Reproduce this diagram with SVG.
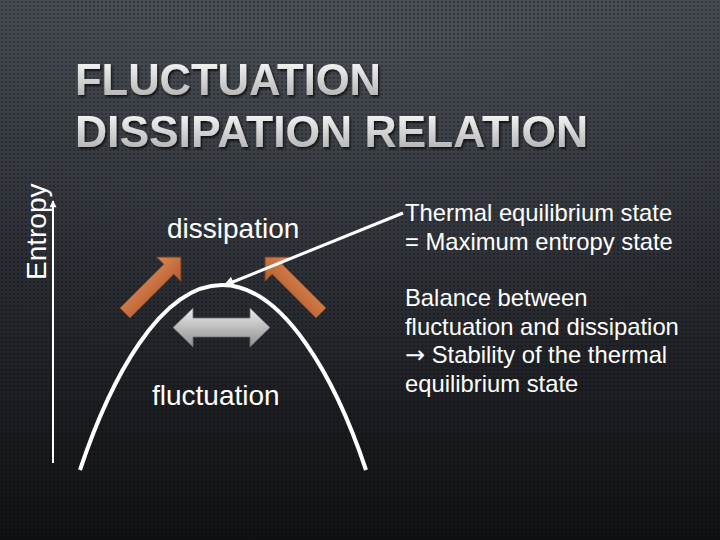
<svg xmlns="http://www.w3.org/2000/svg" width="720" height="540" viewBox="0 0 720 540">
  <defs>
    <linearGradient id="bg" x1="0" y1="0" x2="0" y2="1">
      <stop offset="0" stop-color="#43484f"/>
      <stop offset="0.45" stop-color="#2a2d33"/>
      <stop offset="1" stop-color="#101114"/>
    </linearGradient>
    <radialGradient id="glow" cx="0.5" cy="0" r="0.75">
      <stop offset="0" stop-color="#5a6068" stop-opacity="0.35"/>
      <stop offset="1" stop-color="#5a6068" stop-opacity="0"/>
    </radialGradient>
    <pattern id="dots" width="4" height="4" patternUnits="userSpaceOnUse">
      <circle cx="2" cy="2" r="1.1" fill="#000" fill-opacity="0.35"/>
    </pattern>
    <linearGradient id="titleFill" x1="0" y1="0" x2="0" y2="1">
      <stop offset="0" stop-color="#ffffff"/>
      <stop offset="1" stop-color="#a8a8a8"/>
    </linearGradient>
    <linearGradient id="orange" x1="0" y1="0" x2="0" y2="1">
      <stop offset="0" stop-color="#dc8655"/>
      <stop offset="1" stop-color="#b45c2c"/>
    </linearGradient>
    <linearGradient id="gray" x1="0" y1="0" x2="0" y2="1">
      <stop offset="0" stop-color="#ececec"/>
      <stop offset="1" stop-color="#8e8e8e"/>
    </linearGradient>
    <filter id="shadow" x="-5%" y="-20%" width="110%" height="150%">
      <feDropShadow dx="1.5" dy="2" stdDeviation="1.2" flood-color="#000" flood-opacity="0.7"/>
    </filter>
    <marker id="head" viewBox="0 0 10 10" refX="9" refY="5" markerWidth="4" markerHeight="3.6" orient="auto" markerUnits="strokeWidth">
      <path d="M0,0 L10,5 L0,10 Z" fill="#ffffff"/>
    </marker>
    <marker id="axisHead" viewBox="0 0 10 10" refX="9" refY="5" markerWidth="4" markerHeight="3.5" orient="auto" markerUnits="strokeWidth">
      <path d="M0,0 L10,5 L0,10 Z" fill="#ffffff"/>
    </marker>
  </defs>
  <style>
    .title { font-family: "Liberation Sans", Arial, sans-serif; font-weight: bold; font-size: 43.5px; fill: url(#titleFill); }
    .lbl { font-family: "Liberation Sans", Arial, sans-serif; font-size: 28px; fill: #ffffff; }
    .body { font-family: "Liberation Sans", Arial, sans-serif; font-size: 23.8px; fill: #ffffff; }
    .sym { font-family: "DejaVu Sans", sans-serif; font-size: 24px; }
    .orangeArrow { fill: url(#orange); stroke: #8c4a24; stroke-width: 0.8; }
    .grayArrow { fill: url(#gray); stroke: #6f6f6f; stroke-width: 0.8; }
  </style>

  <rect width="720" height="540" fill="url(#bg)"/>
  <rect width="720" height="540" fill="url(#glow)"/>
  <rect width="720" height="540" fill="url(#dots)"/>

  <g id="title" filter="url(#shadow)">
    <text class="title" x="75" y="95" textLength="306" lengthAdjust="spacingAndGlyphs">FLUCTUATION</text>
    <text class="title" x="75" y="147" textLength="513" lengthAdjust="spacingAndGlyphs">DISSIPATION RELATION</text>
  </g>

  <g id="axis">
    <line x1="53" y1="463" x2="53" y2="201" stroke="#ffffff" stroke-width="2" marker-end="url(#axisHead)"/>
    <text class="lbl" transform="translate(46,280) rotate(-90)">Entropy</text>
  </g>

  <g id="curve">
    <path d="M80,470 C110,380 160,285 222,285 C284,285 336,380 366,470" fill="none" stroke="#ffffff" stroke-width="4"/>
  </g>

  <g id="dissipation-left">
    <path class="orangeArrow" transform="translate(125,313) rotate(-45)" d="M0,-7 L62,-7 L62,-17 L79,0 L62,17 L62,7 L0,7 Z"/>
  </g>
  <g id="dissipation-right">
    <path class="orangeArrow" transform="translate(321,313) rotate(-135) scale(1,-1)" d="M0,-7 L62,-7 L62,-17 L79,0 L62,17 L62,7 L0,7 Z"/>
  </g>
  <g id="dissipation-label">
    <text class="lbl" x="167" y="238">dissipation</text>
  </g>

  <g id="fluctuation">
    <path class="grayArrow" d="M173,327.5 L193,308 L193,318 L250,318 L250,308 L270,327.5 L250,347 L250,337 L193,337 L193,347 Z"/>
    <text class="lbl" x="152" y="405">fluctuation</text>
  </g>

  <g id="connectors">
    <line x1="403" y1="213" x2="224" y2="285.5" stroke="#ffffff" stroke-width="3" marker-end="url(#head)"/>
  </g>

  <g id="equilibrium-text">
    <text class="body" x="405" y="221">Thermal equilibrium state</text>
    <text class="body" x="405" y="250">= Maximum entropy state</text>
  </g>
  <g id="balance-text">
    <text class="body" x="405" y="306">Balance between</text>
    <text class="body" x="405" y="335">fluctuation and dissipation</text>
    <text class="body" x="405" y="363"><tspan class="sym">→</tspan> Stability of the thermal</text>
    <text class="body" x="405" y="392">equilibrium state</text>
  </g>
</svg>
